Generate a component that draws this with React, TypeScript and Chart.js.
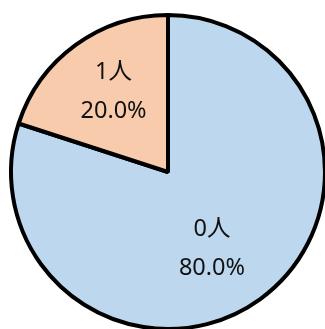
import React, { useEffect, useRef } from "react";
import { Chart, registerables } from "chart.js";

Chart.register(...registerables);

const categories = ["0人", "1人"];
const values = [80, 20];
const sliceColors = ["#BDD7EE", "#F8CBAD"];

// Label placement inside each slice: fraction of the radius and a small angular nudge (degrees)
const labelRadius = [0.56, 0.62];
const labelNudge = [6, 2];

// Draws "name / percent" labels inside each slice
const sliceLabels = {
  id: "sliceLabels",
  afterDatasetsDraw(chart: any) {
    const { ctx } = chart;
    const meta = chart.getDatasetMeta(0);
    const data = chart.data.datasets[0].data as number[];
    const total = data.reduce((a, b) => a + b, 0);
    ctx.save();
    ctx.fillStyle = "#111111";
    ctx.font = '23.5px "Noto Sans", "Noto Sans CJK JP", sans-serif';
    ctx.textAlign = "center";
    ctx.textBaseline = "middle";
    meta.data.forEach((arc: any, i: number) => {
      const { x, y, startAngle, endAngle, outerRadius } = arc.getProps(
        ["x", "y", "startAngle", "endAngle", "outerRadius"],
        true
      );
      const mid = (startAngle + endAngle) / 2 + (labelNudge[i] * Math.PI) / 180;
      const r = outerRadius * labelRadius[i];
      const lx = x + Math.cos(mid) * r;
      const ly = y + Math.sin(mid) * r;
      const pct = ((data[i] / total) * 100).toFixed(1) + "%";
      ctx.fillText(String(chart.data.labels[i]), lx, ly - 19);
      ctx.fillText(pct, lx, ly + 20);
    });
    ctx.restore();
  },
};

export default function App() {
  const ref = useRef<HTMLCanvasElement>(null);
  useEffect(() => {
    if (!ref.current) return;
    const chart = new Chart(ref.current, {
      type: "pie",
      data: {
        labels: categories,
        datasets: [
          {
            data: values,
            backgroundColor: sliceColors,
            borderColor: "#000000",
            borderWidth: 4,
          },
        ],
      },
      options: {
        responsive: false,
        animation: false,
        layout: { padding: { left: 9, top: 13, right: 13, bottom: 9 } },
        plugins: {
          legend: { display: false },
          tooltip: { enabled: false },
        },
      },
      plugins: [sliceLabels],
    });
    return () => chart.destroy();
  }, []);
  return (
    <div
      style={{
        position: "fixed",
        left: 0,
        top: 0,
        width: 325,
        height: 329,
        overflow: "hidden",
        background: "#fff",
      }}
    >
      <canvas ref={ref} width={340} height={340} style={{ display: "block" }} />
    </div>
  );
}
